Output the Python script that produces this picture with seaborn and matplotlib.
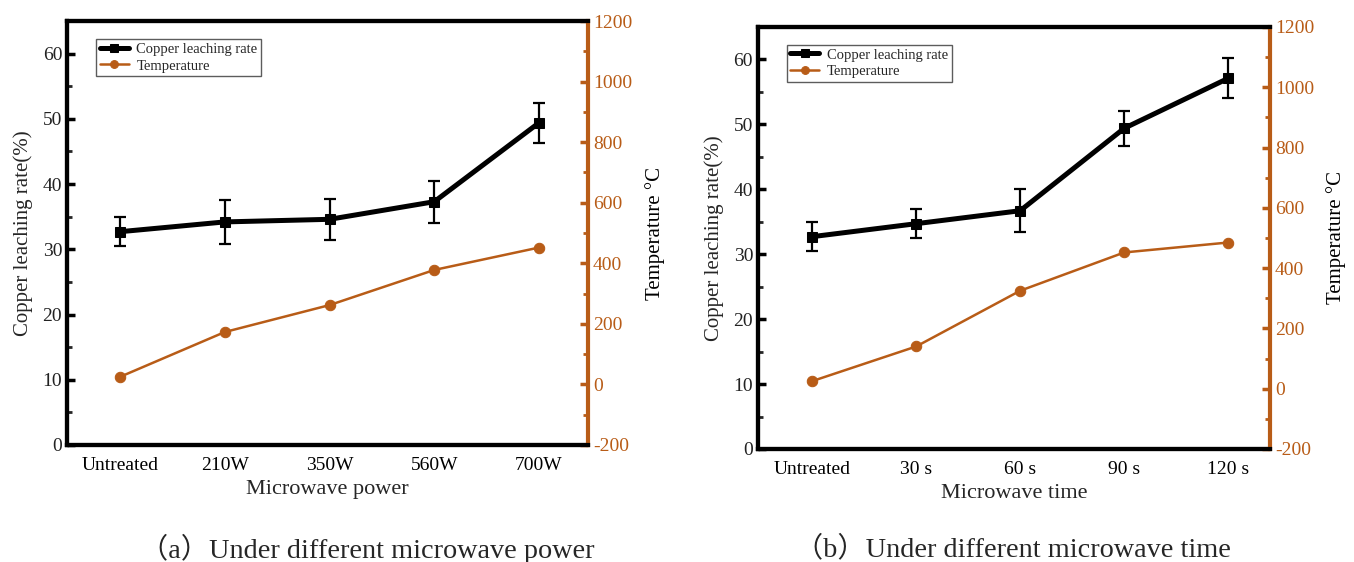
import numpy as np
import pandas as pd
import matplotlib
matplotlib.use("Agg")
import matplotlib.pyplot as plt
import seaborn as sns
from matplotlib.ticker import MultipleLocator

sns.set_theme(style="white")
plt.rcParams['font.family'] = ['Liberation Serif', 'Noto Sans CJK SC']
plt.rcParams['mathtext.fontset'] = 'stix'
plt.rcParams['axes.unicode_minus'] = False

# Panel (a): microwave power
power_labels = ["Untreated", "210W", "350W", "560W", "700W"]
power_leach = [32.7, 34.2, 34.6, 37.3, 49.4]
power_leach_err = [2.2, 3.4, 3.1, 3.2, 3.1]
power_temp = [25, 173, 262, 378, 452]

# Panel (b): microwave time
time_labels = ["Untreated", "30 s", "60 s", "90 s", "120 s"]
time_leach = [32.7, 34.7, 36.7, 49.4, 57.1]
time_leach_err = [2.2, 2.2, 3.3, 2.7, 3.1]
time_temp = [25, 140, 325, 452, 485]

ORANGE = "#B85C17"
BLACK = "black"

fig = plt.figure(figsize=(13.54, 5.62), dpi=100)


def draw_panel(rect, labels, leach, err, temp, xlabel, caption, cap_xy, xlim):
    ax = fig.add_axes(rect)
    df = pd.DataFrame({"pos": np.arange(len(labels)), "leach": leach, "temp": temp})

    ax.errorbar(df["pos"], df["leach"], yerr=err, fmt="none", ecolor=BLACK,
                elinewidth=1.6, capsize=4.5, capthick=1.6, zorder=2)
    sns.lineplot(data=df, x="pos", y="leach", ax=ax, color=BLACK, lw=3.6,
                 marker="s", markersize=7.5, markeredgecolor=BLACK,
                 label="Copper leaching rate", zorder=3, legend=False)

    ax2 = ax.twinx()
    sns.lineplot(data=df, x="pos", y="temp", ax=ax2, color=ORANGE, lw=1.8,
                 marker="o", markersize=7.5, markeredgecolor=ORANGE,
                 label="Temperature", zorder=3, legend=False)

    ax.set_xlim(*xlim)
    ax.set_ylim(0, 65)
    ax2.set_ylim(-200, 1200)
    ax.set_xticks(df["pos"])
    ax.set_xticklabels(labels)
    ax.yaxis.set_major_locator(MultipleLocator(10))
    ax.yaxis.set_minor_locator(MultipleLocator(5))
    ax2.yaxis.set_major_locator(MultipleLocator(200))
    ax2.yaxis.set_minor_locator(MultipleLocator(100))

    ax.tick_params(axis="x", direction="in", length=4, width=2.5, colors=BLACK,
                   labelsize=14, pad=9)
    ax.tick_params(axis="y", which="major", direction="in", length=6, width=2.5,
                   labelsize=14, colors=BLACK, labelcolor="#222222")
    ax.tick_params(axis="y", which="minor", direction="in", length=3.5, width=2)
    ax2.tick_params(axis="y", which="major", direction="in", length=6, width=2.5,
                    colors=ORANGE, labelsize=14)
    ax2.tick_params(axis="y", which="minor", direction="in", length=3.5, width=2,
                    colors=ORANGE)

    for name in ["left", "top", "bottom"]:
        ax.spines[name].set_color(BLACK)
        ax.spines[name].set_linewidth(3)
        ax2.spines[name].set_color(BLACK)
        ax2.spines[name].set_linewidth(3)
    ax.spines["right"].set_visible(False)
    ax2.spines["right"].set_color(ORANGE)
    ax2.spines["right"].set_linewidth(3)

    ax.set_xlabel(xlabel, fontsize=16, labelpad=4)
    ax.set_ylabel("Copper leaching rate(%)", fontsize=15, labelpad=7)
    ax2.set_ylabel("Temperature \u00b0C", fontsize=15, labelpad=9, color=BLACK)
    ax.grid(False)
    ax2.grid(False)

    h1, l1 = ax.get_legend_handles_labels()
    h2, l2 = ax2.get_legend_handles_labels()
    leg = ax2.legend(h1 + h2, l1 + l2, loc="upper left",
                     bbox_to_anchor=(0.056, 0.958), fontsize=10.5,
                     frameon=True, fancybox=False, edgecolor="#333333",
                     handlelength=2.0, handletextpad=0.5, borderpad=0.25,
                     labelspacing=0.25, borderaxespad=0, markerscale=0.75)
    leg.get_frame().set_linewidth(1.0)

    fig.text(cap_xy[0], cap_xy[1], caption, fontsize=20.3, ha="center", va="center")
    return ax, ax2


draw_panel([0.0495, 0.2082, 0.3848, 0.7544], power_labels, power_leach,
           power_leach_err, power_temp, "Microwave power",
           "\uff08a\uff09Under different microwave power", (0.271, 0.023),
           (-0.506, 4.468))
draw_panel([0.5598, 0.2011, 0.3781, 0.7509], time_labels, time_leach,
           time_leach_err, time_temp, "Microwave time",
           "\uff08b\uff09Under different microwave time", (0.748, 0.023),
           (-0.52, 4.40))

fig.savefig("out.png", dpi=100)
